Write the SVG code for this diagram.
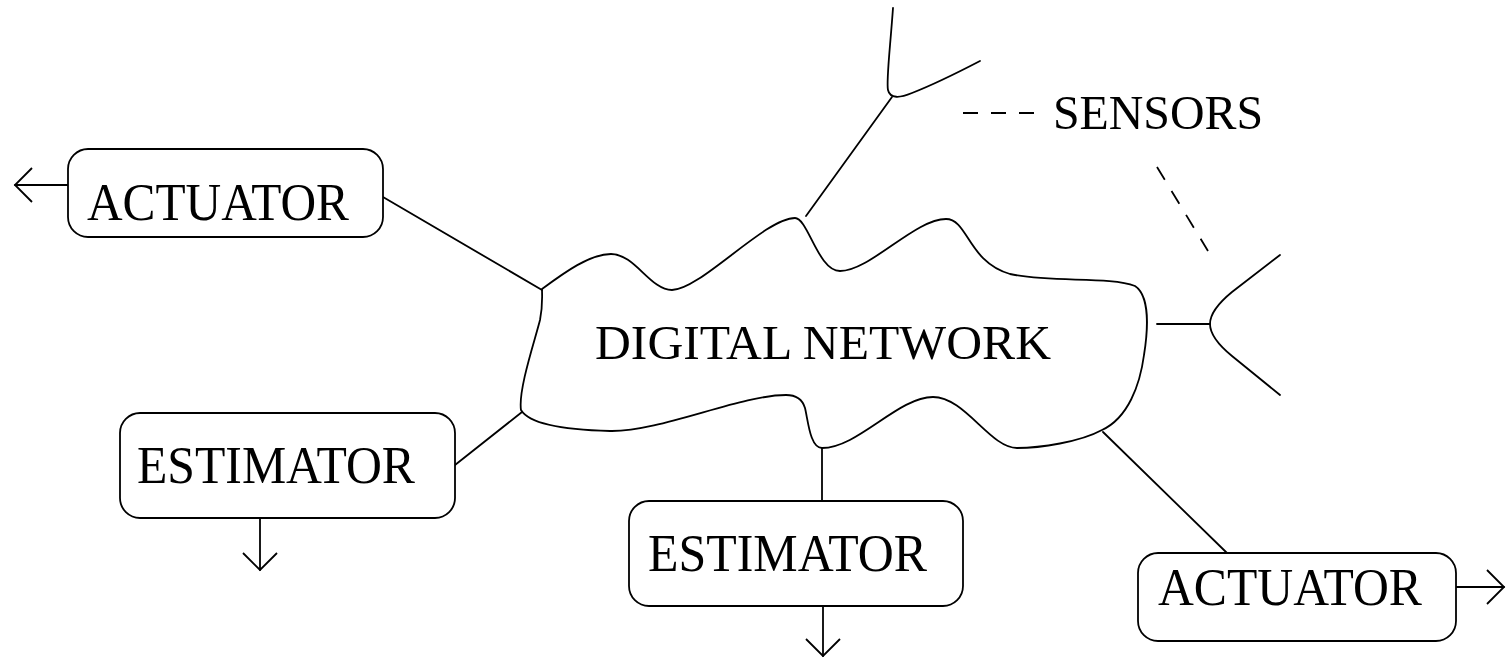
<svg xmlns="http://www.w3.org/2000/svg" width="1507" height="658" viewBox="0 0 1507 658">
<style>
.ln{fill:none;stroke:#000;stroke-width:1.8;stroke-linecap:round;stroke-linejoin:round}
.bx{fill:#fff;stroke:#000;stroke-width:1.8}
.t{font-family:"Liberation Serif","Times New Roman",serif;font-size:52px;fill:#000}
.m{font-size:49px}
.dash{fill:none;stroke:#000;stroke-width:1.8;stroke-dasharray:15 13}
</style>
<defs>
<marker id="ah" markerUnits="userSpaceOnUse" markerWidth="22" markerHeight="38" viewBox="0 0 22 38" refX="19" refY="19" orient="auto">
<path d="M2,2 L19,19 L2,36" fill="none" stroke="#000" stroke-width="1.8"/>
</marker>
</defs>
<rect width="1507" height="658" fill="#fff"/>
<g id="connectors">
<path class="ln" d="M383,197 L542,290"/>
<path class="ln" d="M455,465 L522,412"/>
<path class="ln" d="M822,448 L822,501"/>
<path class="ln" d="M1103,432 L1227,553"/>
<path class="ln" d="M806,216 L892,97"/>
<path class="ln" d="M1157,324 L1210,324"/>
<path class="ln" d="M68,185 L15,185" marker-end="url(#ah)"/>
<path class="ln" d="M260,518 L260,570" marker-end="url(#ah)"/>
<path class="ln" d="M823,606 L823,656" marker-end="url(#ah)"/>
<path class="ln" d="M1456,587 L1504,587" marker-end="url(#ah)"/>
<path class="dash" d="M963,113 L1035,113"/>
<path class="dash" d="M1157,167 L1208,251"/>
</g>
<g id="cloud">
<path class="ln" d="M542,289 C565,272 590,254 611,254 C635,254 650,290 672,290 C700,290 765,218 795,218 C808,218 818,271 840,271 C870,271 915,219 946,219 C968,219 968,262 1010,274 C1050,283 1110,276 1135,286 C1150,296 1148,330 1144,355 C1140,385 1128,418 1102,430 C1080,442 1040,448 1017,448 C990,448 965,397 933,397 C898,397 858,448 822,448 C810,448 808,420 805,408 C802,398 795,395 786,395 C740,395 660,432 610,431 C570,430 530,425 521,410 C518,390 535,340 540,320 C543,305 542,295 542,289 Z"/>
<text class="t m" x="595" y="359" textLength="456" lengthAdjust="spacingAndGlyphs">DIGITAL NETWORK</text>
</g>
<g id="actuator1">
<rect class="bx" x="68" y="149" width="315" height="88" rx="20"/>
<text class="t" x="87" y="220" textLength="262" lengthAdjust="spacingAndGlyphs">ACTUATOR</text>
</g>
<g id="estimator1">
<rect class="bx" x="120" y="413" width="335" height="105" rx="20"/>
<text class="t" x="137" y="483" textLength="278" lengthAdjust="spacingAndGlyphs">ESTIMATOR</text>
</g>
<g id="estimator2">
<rect class="bx" x="629" y="501" width="334" height="105" rx="20"/>
<text class="t" x="648" y="571" textLength="279" lengthAdjust="spacingAndGlyphs">ESTIMATOR</text>
</g>
<g id="actuator2">
<rect class="bx" x="1138" y="553" width="318" height="88" rx="20"/>
<text class="t" x="1158" y="605" textLength="264" lengthAdjust="spacingAndGlyphs">ACTUATOR</text>
</g>
<g id="sensor1">
<path class="ln" d="M893,8 C890,50 886,82 888,90 C890,99 900,98 912,93 C935,84 955,74 980,61"/>
</g>
<g id="sensor2">
<path class="ln" d="M1280,255 L1232,292 Q1210,310 1210,324 Q1210,338 1232,356 L1280,395"/>
</g>
<g id="sensors-label">
<text class="t m" x="1053" y="129" textLength="210" lengthAdjust="spacingAndGlyphs">SENSORS</text>
</g>
</svg>
